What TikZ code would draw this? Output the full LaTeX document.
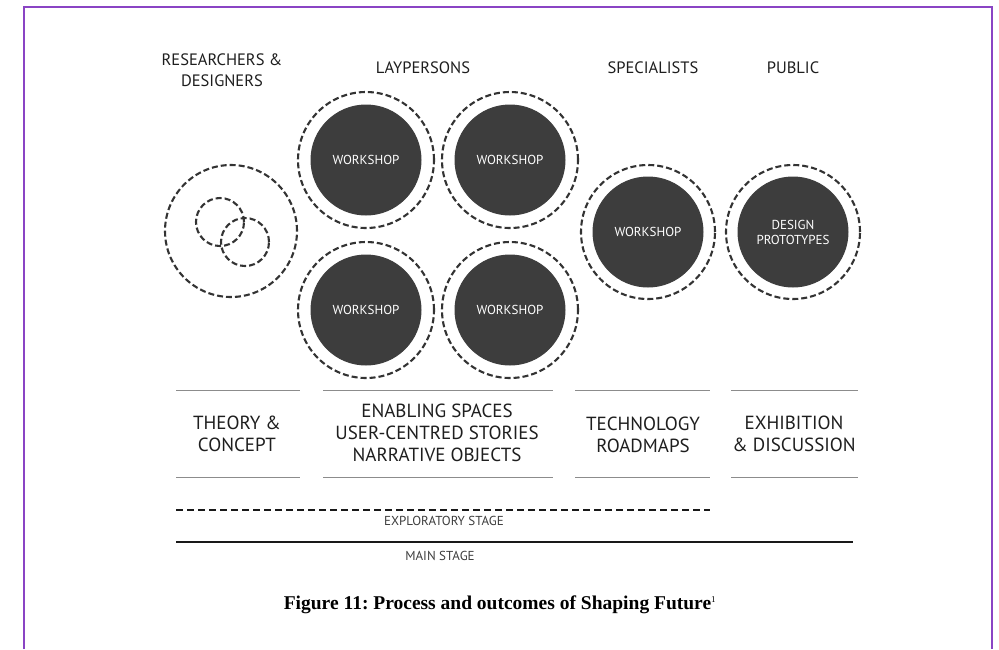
\documentclass[tikz,border=0pt]{standalone}
\usepackage{fontspec}
\setmainfont{PT Sans}
\newfontfamily\capfont{Liberation Serif}
\frenchspacing
\definecolor{frame}{HTML}{8A44C4}
\definecolor{dark}{HTML}{3D3D3D}
\definecolor{ring}{HTML}{333333}
\definecolor{rule}{HTML}{8C8C8C}
\definecolor{txt}{HTML}{1E1E1E}
\tikzset{
  ringc/.style={circle, draw=ring, line width=2.1pt, dash pattern=on 6pt off 3pt, minimum size=#1, inner sep=0pt},
  disc/.style={circle, fill=dark, draw=dark, line width=1pt, minimum size=110pt, inner sep=0pt, text=white, font=\fontsize{13}{15}\selectfont, align=center},
  head/.style={font=\fontsize{16.5}{21}\selectfont, text=txt, align=center},
  outc/.style={font=\fontsize{19}{22}\selectfont, text=txt, align=center},
  stagelbl/.style={font=\fontsize{13}{15}\selectfont, text=dark},
  hrule/.style={draw=rule, line width=1pt},
}
\begin{document}
\begin{tikzpicture}[x=1pt,y=-1pt]
\useasboundingbox (0,0) rectangle (999,649);
% page frame
\draw[frame, line width=1.4pt] (24,649) -- (24,7) -- (992,7) -- (992,649);
% headers
\node[head] (hR) at (222,70) {RESEARCHERS \&\\DESIGNERS};
\node[head] (hL) at (423,68) {LAYPERSONS};
\node[head] (hS) at (653,68) {SPECIALISTS};
\node[head] (hP) at (793,68) {PUBLIC};
% researchers circles
\node[ringc=132pt] (rBig) at (231,231) {};
\node[ringc=48pt] (rA) at (220,222) {};
\node[ringc=48pt] (rB) at (245,242) {};
% laypersons workshops
\node[ringc=136pt] (o1) at (366,160) {};
\node[disc] (w1) at (366,160) {WORKSHOP};
\node[ringc=136pt] (o2) at (510,160) {};
\node[disc] (w2) at (510,160) {WORKSHOP};
\node[ringc=136pt] (o3) at (366,310) {};
\node[disc] (w3) at (366,310) {WORKSHOP};
\node[ringc=136pt] (o4) at (510,310) {};
\node[disc] (w4) at (510,310) {WORKSHOP};
% specialists
\node[ringc=134pt] (o5) at (648,232) {};
\node[disc] (w5) at (648,232) {WORKSHOP};
% public
\node[ringc=134pt] (o6) at (793,232) {};
\node[disc] (w6) at (793,232) {DESIGN\\PROTOTYPES};
% rules
\foreach \a/\b in {176/300, 323/553, 575/710, 731/858}{
  \draw[hrule] (\a,390) -- (\b,390);
  \draw[hrule] (\a,477) -- (\b,477);
}
% outcomes
\node[outc] (t1) at (237,434) {THEORY \&\\CONCEPT};
\node[outc] (t2) at (437,433) {ENABLING SPACES\\USER-CENTRED STORIES\\NARRATIVE OBJECTS};
\node[outc] (t3) at (643,435) {TECHNOLOGY\\ROADMAPS};
\node[outc] (t4) at (794,434) {EXHIBITION\\\& DISCUSSION};
% stages
\coordinate (eS) at (176,510);
\coordinate (eE) at (710,510);
\draw[line width=2.6pt, color=black!90, dash pattern=on 7pt off 4pt] (eS) -- (eE);
\node[stagelbl] (eL) at (444,521) {EXPLORATORY STAGE};
\coordinate (mS) at (176,542);
\coordinate (mE) at (853,542);
\draw[line width=2.6pt, color=black!90] (mS) -- (mE);
\node[stagelbl] (mL) at (440,556) {MAIN STAGE};
% caption
\node[font=\capfont\bfseries\fontsize{19.5}{22}\selectfont] (cap) at (500,605) {Figure 11: Process and outcomes of Shaping Future\textsuperscript{\fontsize{9}{9}\selectfont\mdseries 1}};
\end{tikzpicture}
\end{document}
